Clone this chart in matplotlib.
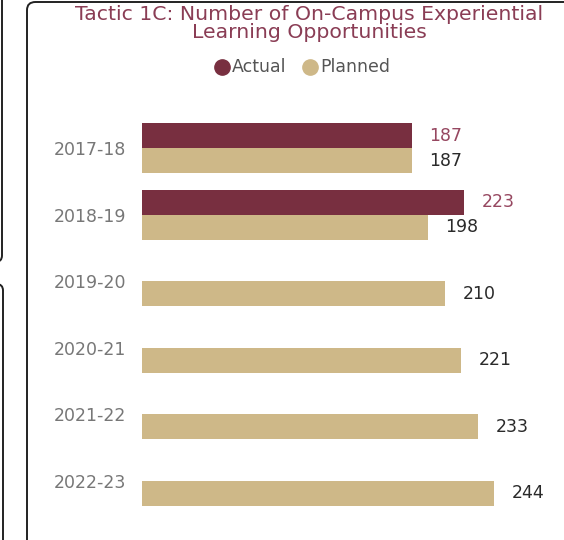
import matplotlib
matplotlib.use("Agg")
import matplotlib.pyplot as plt
from matplotlib.patches import FancyBboxPatch
import numpy as np

years = ["2017-18", "2018-19", "2019-20", "2020-21", "2021-22", "2022-23"]
actual = [187, 223, None, None, None, None]
planned = [187, 198, 210, 221, 233, 244]

GARNET = "#782F40"
GOLD = "#CEB888"
TITLE_COLOR = "#8A3D55"
FONT = "DejaVu Sans"

W, H = 564, 540
fig = plt.figure(figsize=(W / 100, H / 100), dpi=100)
fig.patch.set_facecolor("white")

# panel borders (main card plus edges of neighbouring cards)
main = FancyBboxPatch((27 / W, -0.2), 1.2, (H - 2) / H + 0.2,
                      boxstyle="round,pad=0,rounding_size=0.015",
                      transform=fig.transFigure, fill=False, ec="#222222", lw=1.4)
left_top = FancyBboxPatch((-0.1, (H - 262) / H), 0.1 + 2 / W, 0.6,
                          boxstyle="round,pad=0,rounding_size=0.012",
                          transform=fig.transFigure, fill=False, ec="#222222", lw=1.4)
left_bot = FancyBboxPatch((-0.1, -0.2), 0.1 + 3 / W, 0.2 + (H - 284) / H,
                          boxstyle="round,pad=0,rounding_size=0.012",
                          transform=fig.transFigure, fill=False, ec="#222222", lw=1.4)
for p in (main, left_top, left_bot):
    fig.add_artist(p)

ax = fig.add_axes([142 / W, 1 - 514 / H, (555 - 142) / W, (514 - 115) / H])
ax.set_facecolor("none")

y = np.arange(len(years))
bh = 0.375
act_vals = [v if v is not None else 0 for v in actual]
ax.barh(y - bh / 2, act_vals, height=bh, color=GARNET)
ax.barh(y + bh / 2, planned, height=bh, color=GOLD)

for i, v in enumerate(actual):
    if v is not None:
        ax.annotate(str(v), (v, i - bh / 2), xytext=(12.5, 0), textcoords="offset points",
                    va="center", ha="left", fontsize=12.5, color="#964760", family=FONT)
for i, v in enumerate(planned):
    ax.annotate(str(v), (v, i + bh / 2), xytext=(12.5, 0), textcoords="offset points",
                va="center", ha="left", fontsize=12.5, color="#2a2a2a", family=FONT)

ax.set_xlim(0, 286)
ax.set_ylim(len(years) - 0.5, -0.5)
ax.set_yticks(y)
ax.set_yticklabels(years, fontsize=12.5, color="#777777", family=FONT)
ax.tick_params(axis="y", length=0, pad=11.5)
ax.set_xticks([])
for s in ax.spines.values():
    s.set_visible(False)

fig.text(309 / W, 1 - 14.5 / H, "Tactic 1C: Number of On-Campus Experiential",
         ha="center", va="center", fontsize=14.7, color=TITLE_COLOR, family=FONT)
fig.text(309 / W, 1 - 32.5 / H, "Learning Opportunities",
         ha="center", va="center", fontsize=14.7, color=TITLE_COLOR, family=FONT)

# legend
fig.text(232 / W, 1 - 67 / H, "Actual", ha="left", va="center", fontsize=12.5,
         color="#555555", family=FONT)
fig.text(320 / W, 1 - 67 / H, "Planned", ha="left", va="center", fontsize=12.5,
         color="#555555", family=FONT)
fig.add_artist(plt.Line2D([222 / W], [1 - 67 / H], marker="o", ms=11, color=GARNET,
                          transform=fig.transFigure))
fig.add_artist(plt.Line2D([310 / W], [1 - 67 / H], marker="o", ms=11, color=GOLD,
                          transform=fig.transFigure))

fig.savefig("out.png", dpi=100)
